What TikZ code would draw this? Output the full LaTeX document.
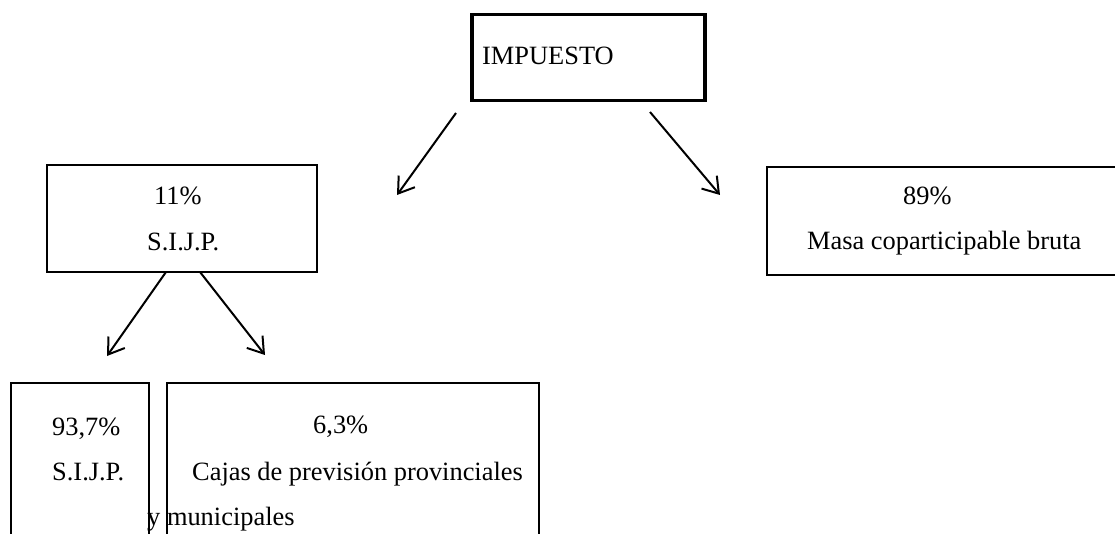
\documentclass[tikz,border=0pt]{standalone}
\usepackage{fontspec}
\setmainfont{Liberation Serif}
\usetikzlibrary{arrows.meta}
\tikzset{
  boxnode/.style={draw=black, line width=2pt, rectangle, inner sep=0pt, anchor=north west},
  thickbox/.style={boxnode, line width=3.5pt},
  lbl/.style={anchor=base west, inner sep=0pt, font=\fontsize{26.4}{30}\selectfont},
  arr/.style={line width=2pt, -{Straight Barb[length=15pt,width=20pt,line width=2pt]}}
}
\begin{document}
\begin{tikzpicture}[x=1pt,y=-1pt]
\clip (0,0) rectangle (1115,534);
\fill[white] (0,0) rectangle (1115,534);
% boxes
\node[thickbox, minimum width=233pt, minimum height=86pt] (imp) at (470,13) {};
\node[boxnode, minimum width=270pt, minimum height=107pt] (sijp) at (46,164) {};
\node[boxnode, minimum width=400pt, minimum height=108pt] (masa) at (766,166) {};
\node[boxnode, minimum width=138pt, minimum height=200pt] (bsijp) at (10,382) {};
\node[boxnode, minimum width=372pt, minimum height=200pt] (cajas) at (166,382) {};
% texts
\node[lbl] (timp) at (482,65) {IMPUESTO};
\node[lbl] (t11) at (154,205) {11\%};
\node[lbl] (tsijp) at (147,251) {S.I.J.P.};
\node[lbl] (t89) at (903,205) {89\%};
\node[lbl] (tmasa) at (807,250) {Masa coparticipable bruta};
\node[lbl] (t937) at (52,435) {93,7\%};
\node[lbl] (tsijp2) at (52,480) {S.I.J.P.};
\node[lbl] (t63) at (313,433) {6,3\%};
\node[lbl] (tcajas) at (192,480) {Cajas de previsión provinciales};
\node[lbl] (tmuni) at (147,525) {y municipales};
% arrow ends
\coordinate (a1s) at (456,113);
\coordinate (a1e) at (397,195);
\coordinate (a2s) at (650,112);
\coordinate (a2e) at (720,195);
\coordinate (a3s) at (166,272);
\coordinate (a3e) at (107,356);
\coordinate (a4s) at (200,272);
\coordinate (a4e) at (265,355);
\draw[arr] (a1s) -- (a1e);
\draw[arr] (a2s) -- (a2e);
\draw[arr] (a3s) -- (a3e);
\draw[arr] (a4s) -- (a4e);
\end{tikzpicture}
\end{document}
